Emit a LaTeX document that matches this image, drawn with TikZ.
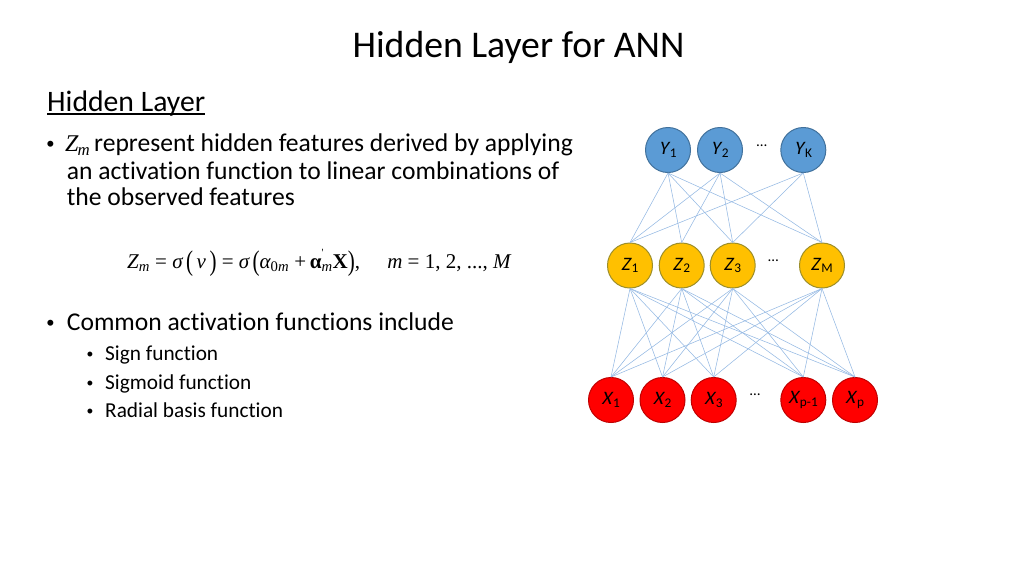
\documentclass[tikz,border=0pt]{standalone}
\usepackage{fontspec}
\setmainfont{Carlito}[Ligatures=NoCommon]
\newfontfamily\slfont{Carlito}[FakeSlant=0.2,Ligatures=NoCommon]
\newfontfamily\tnr{Liberation Serif}
\newfontfamily\arialf{Liberation Sans}
\newcommand{\lbl}[2]{{\slfont #1}\kern1.8pt\textsubscript{#2}}
\newcommand{\tall}[1]{\raisebox{-0.12em}{\scalebox{1}[1.35]{#1}}}
\definecolor{ybl}{HTML}{5B9BD5}
\definecolor{yblD}{HTML}{41719C}
\definecolor{zgold}{HTML}{FFC000}
\definecolor{zgoldD}{HTML}{9C8E2A}
\definecolor{xred}{HTML}{FF0000}
\definecolor{xredD}{HTML}{C00000}
\definecolor{edgecol}{HTML}{95B9E3}
\begin{document}
\begin{tikzpicture}[x=1pt,y=-1pt,
  neuron/.style={circle, minimum size=45pt, inner sep=0pt, line width=1pt, font=\fontsize{19}{19}\selectfont},
  ynode/.style={neuron, fill=ybl, draw=yblD},
  znode/.style={neuron, fill=zgold, draw=zgoldD},
  xnode/.style={neuron, fill=xred, draw=xredD},
  link/.style={draw=edgecol, line width=0.55pt},
  dots/.style={inner sep=0pt, font=\fontsize{15}{15}\selectfont},
  title/.style={inner sep=0pt, anchor=base, font=\fontsize{37.7}{44}\selectfont},
  body/.style={inner sep=0pt, anchor=base west, font=\fontsize{25.6}{30}\selectfont},
  sub/.style={inner sep=0pt, anchor=base west, font=\fontsize{21.3}{25}\selectfont},
  bul/.style={inner sep=0pt, anchor=base, font=\arialf\fontsize{22}{25}\selectfont},
  sbul/.style={inner sep=0pt, anchor=base, font=\arialf\fontsize{18}{21}\selectfont},
  eqn/.style={inner sep=0pt, anchor=base west, font=\tnr\fontsize{21}{24}\selectfont},
]
\useasboundingbox (0,0) rectangle (1024,576);

% title and text
\node[title] (title) at (518.5,57.3) {Hidden Layer for ANN};
\node[body, font=\fontsize{29.7}{34}\selectfont] (head) at (47,111.7) {Hidden Layer};
\draw[line width=1.4pt] ([yshift=-2.3pt]head.base west) -- ([yshift=-2.3pt]head.base east);

\node[bul] (b1) at (50.5,151.7) {•};
\node[body] (l1) at (65,151.7) {{\tnr\fontsize{24}{28}\selectfont\itshape Z\kern-1pt\textsubscript{m}}\kern4pt represent hidden features derived by applying};
\node[body] (l2) at (66.7,179.3) {an activation function to linear combinations of};
\node[body] (l3) at (66.7,205) {the observed features};

\node[eqn] (eq) at (127,268)
  {\itshape Z\textsubscript{m}\upshape\ =\ \itshape σ\upshape\,\tall{(}\,\itshape v\upshape\,\tall{)}\ =\ \itshape σ\upshape\,\tall{(}\itshape α\textsubscript{\upshape 0\itshape m}\upshape\ +\,\bfseries α\rlap{\raisebox{0.55em}{\mdseries\fontsize{11}{11}\selectfont\textquotesingle}}\textsubscript{\mdseries\itshape m}\bfseries X\mdseries\tall{)},\hspace{1.3em}\itshape m\upshape\ = 1, 2, ..., \itshape M};

\node[bul] (b2) at (50.5,330.7) {•};
\node[body] (l4) at (66.7,330.7) {Common activation functions include};
\node[sbul] (s1b) at (90,360) {•};
\node[sub] (s1) at (105,360) {Sign function};
\node[sbul] (s2b) at (90,389.3) {•};
\node[sub] (s2) at (105,389.3) {Sigmoid function};
\node[sbul] (s3b) at (90,417.3) {•};
\node[sub] (s3) at (105,417.3) {Radial basis function};

% network nodes
\node[ynode] (Y1) at (668,150) {\lbl{Y}{1}};
\node[ynode] (Y2) at (720,150) {\lbl{Y}{2}};
\node[ynode] (YK) at (803.3,150) {\lbl{Y}{K}};
\node[dots] (yd) at (761.7,146) {…};

\node[znode] (Z1) at (630,265.5) {\lbl{Z}{1}};
\node[znode] (Z2) at (681.7,265.5) {\lbl{Z}{2}};
\node[znode] (Z3) at (732.7,265.5) {\lbl{Z}{3}};
\node[znode] (ZM) at (822,265.5) {\lbl{Z}{M}};
\node[dots] (zd) at (773.3,261) {…};

\node[xnode] (X1) at (611,400) {\lbl{X}{1}};
\node[xnode] (X2) at (662.5,400) {\lbl{X}{2}};
\node[xnode] (X3) at (713.7,400) {\lbl{X}{3}};
\node[xnode] (Xq) at (803.3,400) {\lbl{X}{p-1}};
\node[xnode] (Xp) at (855,400) {\lbl{X}{p}};
\node[dots] (xd) at (755,395) {…};

% connections
\foreach \a in {Y1,Y2} \foreach \b in {Z1,Z2,Z3,ZM} \draw[link] (\a.south) -- (\b.north);
\foreach \b in {Z1,Z3,ZM} \draw[link] (YK.south) -- (\b.north);
\foreach \a in {Z1,Z2,Z3,ZM} \foreach \b in {X1,X2,X3,Xq,Xp} \draw[link] (\a.south) -- (\b.north);
\end{tikzpicture}
\end{document}
